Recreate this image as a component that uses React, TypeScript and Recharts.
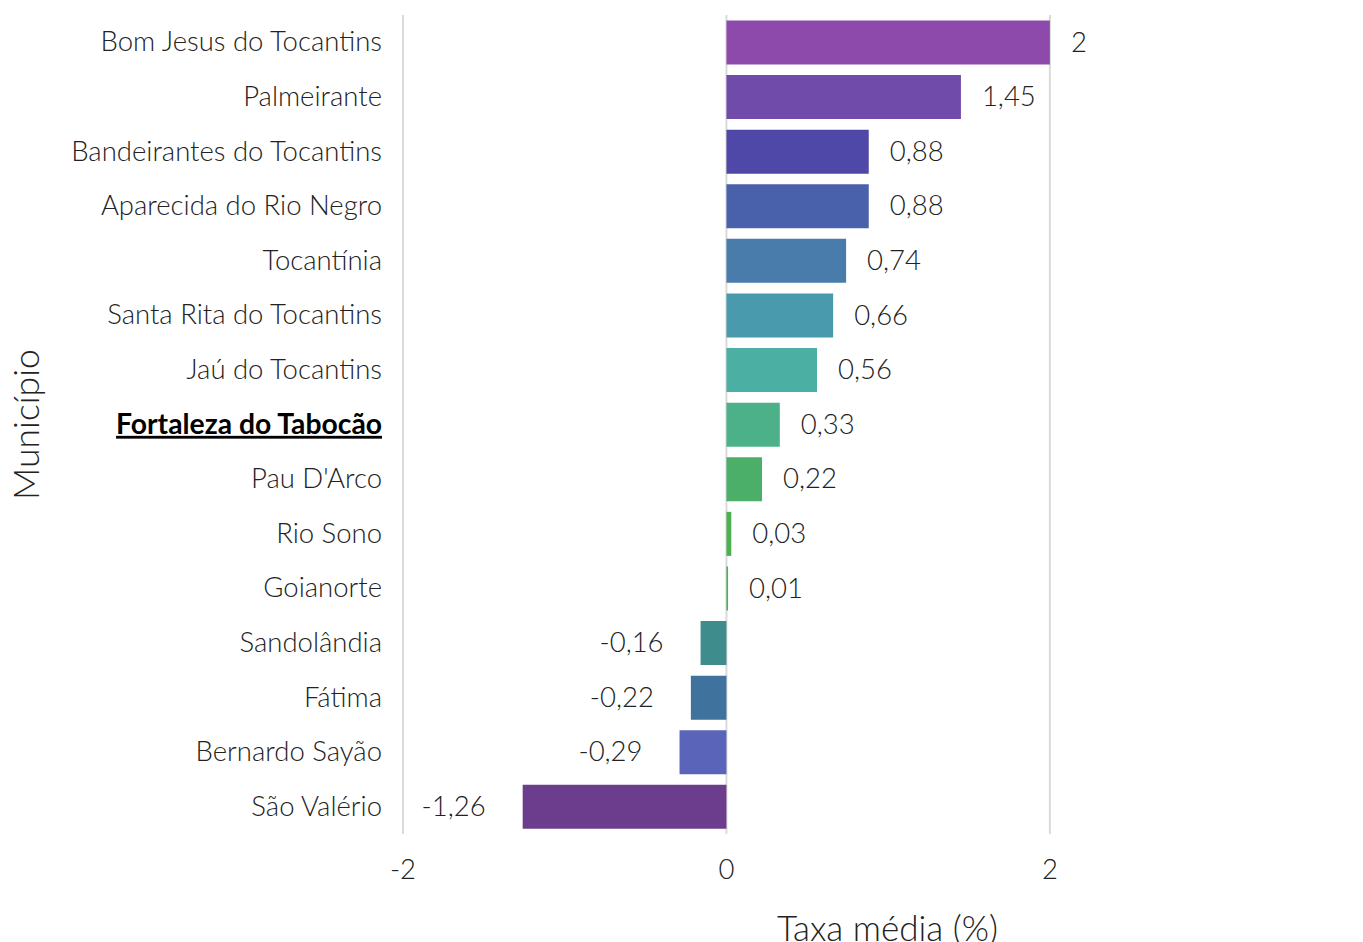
import React from 'react';
import { BarChart, Bar, XAxis, YAxis, CartesianGrid, Cell, LabelList } from 'recharts';

const municipios = [
    'Bom Jesus do Tocantins',
    'Palmeirante',
    'Bandeirantes do Tocantins',
    'Aparecida do Rio Negro',
    'Tocantínia',
    'Santa Rita do Tocantins',
    'Jaú do Tocantins',
    'Fortaleza do Tabocão',
    "Pau D'Arco",
    'Rio Sono',
    'Goianorte',
    'Sandolândia',
    'Fátima',
    'Bernardo Sayão',
    'São Valério',
];

const taxas = [2, 1.45, 0.88, 0.88, 0.74, 0.66, 0.56, 0.33, 0.22, 0.03, 0.01, -0.16, -0.22, -0.29, -1.26];

const cores = [
    '#8E4AAB', '#714BAA', '#5048A8', '#4960AA', '#497CAB',
    '#4A9AAE', '#4BAFA3', '#4CB088', '#4BAF6A', '#4CAF50',
    '#4CAF50', '#3F8C8C', '#3F729C', '#5A64B8', '#6C3D8C',
];

const destaque = 'Fortaleza do Tabocão';
const xTicks = [-2, 0, 2];

const chartData = municipios.map((nome, i) => ({ nome, taxa: taxas[i] }));

const FONT = 'Lato, "Open Sans", sans-serif';

const fmt = (v: number) => String(v).replace('.', ',');

const MunicipioTick = (props: any) => {
    const { x, y, payload } = props;
    const bold = payload.value === destaque;
    return (
        <text
            x={x}
            y={y}
            dy="0.33em"
            textAnchor="end"
            fontFamily={FONT}
            fontSize={bold ? 28.3 : 27.5}
            fontWeight={bold ? 700 : 300}
            fill={bold ? '#000' : '#222'}
            textDecoration={bold ? 'underline' : undefined}
        >
            {payload.value}
        </text>
    );
};

const ValorLabel = (props: any) => {
    const { x, y, width, height, value } = props;
    const end = x + width;
    const pos = value >= 0;
    return (
        <text
            x={pos ? end + 21 : end - 37}
            y={y + height / 2}
            dy="0.33em"
            textAnchor={pos ? 'start' : 'end'}
            fontFamily={FONT}
            fontSize={27.5}
            fontWeight={300}
            fill="#222"
        >
            {fmt(value)}
        </text>
    );
};

const App: React.FC = () => {
    return (
        <div style={{ position: 'absolute', left: 0, top: 0, background: '#fff' }}>
            <BarChart
                width={1363}
                height={942}
                data={chartData}
                layout="vertical"
                margin={{ top: 15, right: 1, bottom: 0, left: 0 }}
                barCategoryGap="10%"
            >
                <CartesianGrid horizontal={false} verticalValues={xTicks} stroke="#DADADA" strokeWidth={2} />
                <XAxis
                    type="number"
                    domain={[-2, 3.93]}
                    ticks={xTicks}
                    axisLine={false}
                    tickLine={false}
                    height={108}
                    tickMargin={19}
                    tick={{ fontFamily: FONT, fontSize: 27.5, fontWeight: 300, fill: '#222' }}
                    label={{
                        value: 'Taxa média (%)',
                        position: 'insideBottom',
                        offset: 1,
                        dx: 5,
                        style: { fontFamily: FONT, fontSize: 35, fontWeight: 300, fill: '#222' },
                    }}
                />
                <YAxis
                    type="category"
                    dataKey="nome"
                    width={403}
                    axisLine={false}
                    tickLine={false}
                    tickMargin={15}
                    interval={0}
                    tick={<MunicipioTick />}
                    label={{
                        content: (p: any) => {
                            const vb = p.viewBox;
                            const cy = vb.y + vb.height / 2;
                            return (
                                <text
                                    x={27}
                                    y={cy}
                                    transform={`rotate(-90, 27, ${cy})`}
                                    textAnchor="middle"
                                    dy="0.35em"
                                    fontFamily={FONT}
                                    fontSize={35.5}
                                    fontWeight={300}
                                    fill="#222"
                                >
                                    Município
                                </text>
                            );
                        },
                    }}
                />
                <Bar dataKey="taxa" isAnimationActive={false}>
                    {chartData.map((d, i) => (
                        <Cell key={d.nome} fill={cores[i]} />
                    ))}
                    <LabelList dataKey="taxa" content={<ValorLabel />} />
                </Bar>
            </BarChart>
        </div>
    );
};

export default App;
